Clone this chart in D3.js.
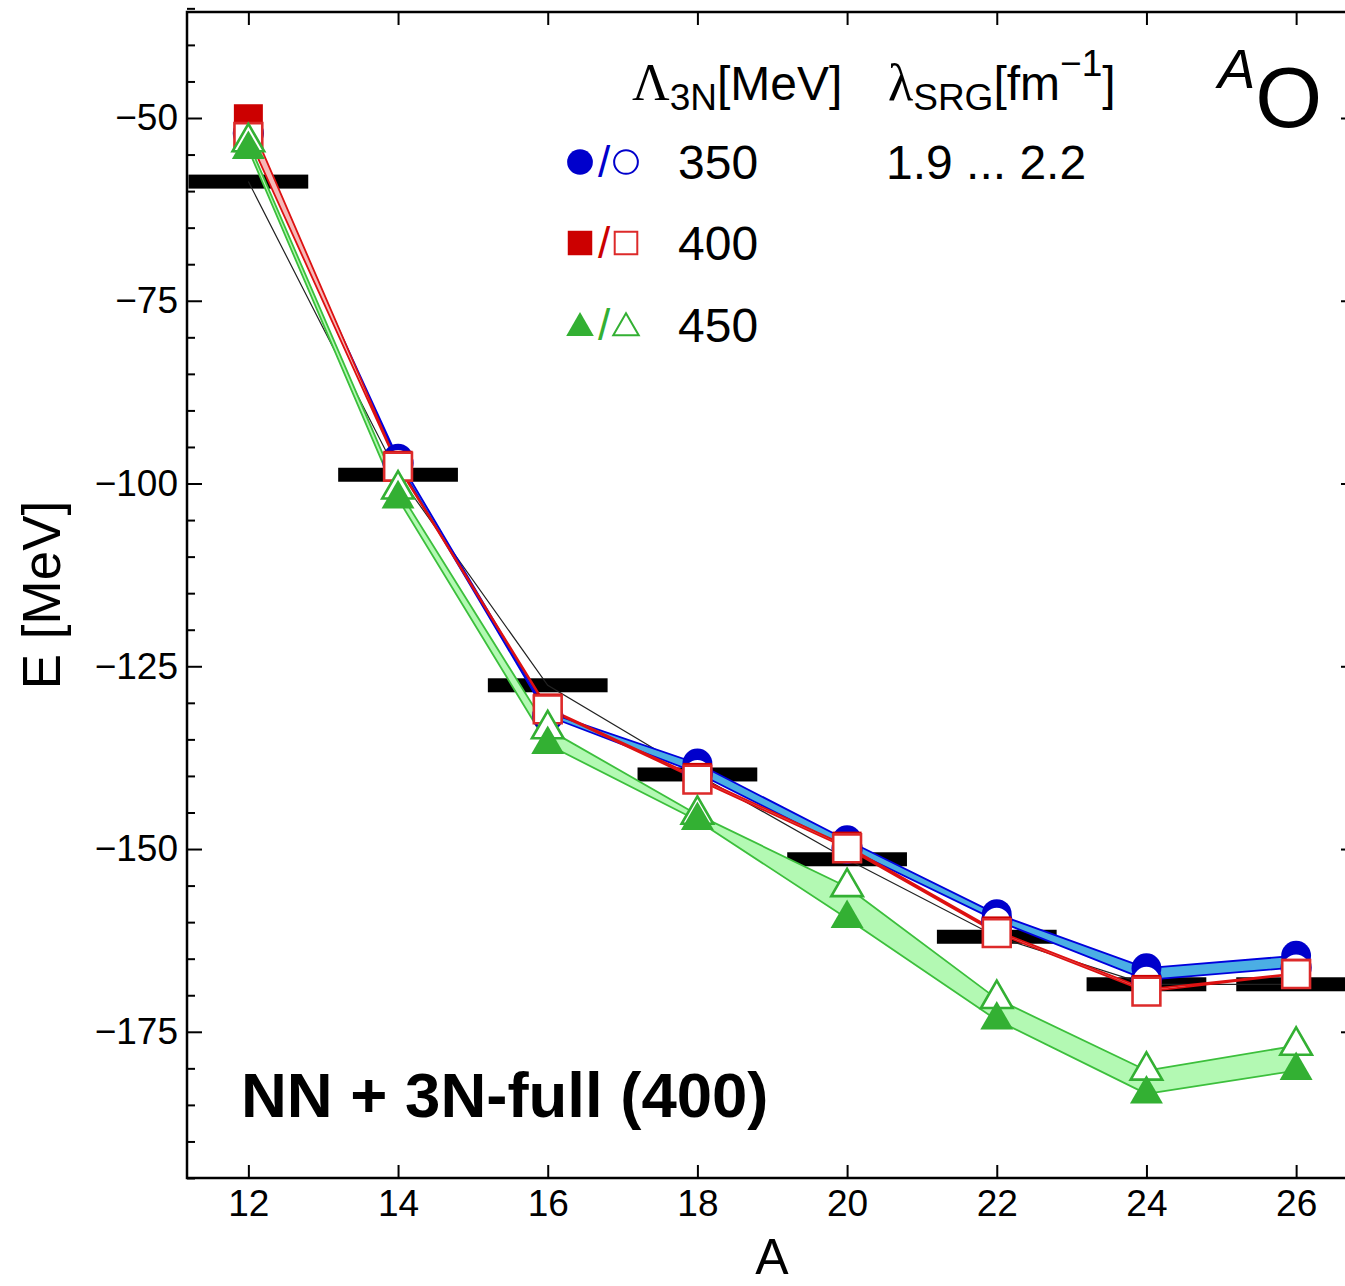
<!DOCTYPE html>
<html lang="en">
<head>
  <meta charset="UTF-8">
  <title>Oxygen isotopes: ground-state energies</title>
  <script src="https://d3js.org/d3.v7.min.js"></script>
  <style>
    body { margin: 0; background: #fff; }
    svg { display: block; background: #fff; font-family: "Liberation Sans", Arial, sans-serif; }
  </style>
</head>
<body>
  <svg id="chart" width="1345" height="1286"></svg>

  <script>
    // mass numbers and energies [MeV]
    const massNumbers = [12, 14, 16, 18, 20, 22, 24, 26];
    const expEnergy   = [-58.7, -98.8, -127.6, -139.8, -151.4, -162.0, -168.5, -168.5];

    // filled symbol / open symbol for each 3N cutoff (band spans lambda_SRG 1.9 ... 2.2)
    const e350Filled = [-51.9, -96.6, -131.3, -138.3, -148.8, -158.9, -166.3, -164.6];
    const e350Open   = [-52.1, -97.2, -131.8, -139.6, -149.9, -159.8, -167.9, -166.2];
    const e400Filled = [-50.1, -97.5, -130.7, -140.2, -149.6, -161.2, -169.2, -167.0];
    const e400Open   = [-52.6, -97.7, -130.9, -140.5, -149.9, -161.5, -169.5, -167.1];
    const e450Filled = [-54.3, -102.1, -135.7, -146.1, -159.5, -173.4, -183.5, -180.3];
    const e450Open   = [-53.3, -100.8, -133.6, -145.3, -155.2, -170.5, -180.3, -176.9];

    const cutoffLabels = ["350", "400", "450"];
    const yMajorTicks = [-50, -75, -100, -125, -150, -175];

    const svg = d3.select("#chart");

    const plotLeft = 187, plotRight = 1356, plotTop = 12, plotBottom = 1178;

    const x = d3.scaleLinear().domain([11.18, 26.8]).range([plotLeft, plotRight]);
    const y = d3.scaleLinear().domain([-35.5, -195]).range([plotTop, plotBottom]);

    const series = [
      { label: cutoffLabels[0], shape: d3.symbolCircle, size: 700, legendSize: 520,
        color: "#0000cc", openStroke: "#0000cc", bandFill: "#4baee4", bandStroke: "#0000dd",
        filled: e350Filled, open: e350Open, openOnTop: true },
      { label: cutoffLabels[1], shape: d3.symbolSquare, size: 841, legendSize: 600,
        color: "#cc0000", openStroke: "#dd2a2a", bandFill: "#f6b8b8", bandStroke: "#dd1111",
        filled: e400Filled, open: e400Open, openOnTop: true },
      { label: cutoffLabels[2], shape: d3.symbolTriangle, size: 470, legendSize: 330,
        color: "#33b033", openStroke: "#33b033", bandFill: "#b3f9b3", bandStroke: "#3cbf3c",
        filled: e450Filled, open: e450Open, openOnTop: false }
    ];

    // experimental bars
    svg.append("g")
      .selectAll("rect")
      .data(massNumbers)
      .join("rect")
      .attr("x", d => x(d - 0.8))
      .attr("width", d => x(d + 0.8) - x(d - 0.8))
      .attr("y", (d, i) => y(expEnergy[i]) - 7)
      .attr("height", 14)
      .attr("fill", "#000");

    // thin line through the experimental values
    svg.append("path")
      .datum(massNumbers)
      .attr("fill", "none")
      .attr("stroke", "#222")
      .attr("stroke-width", 1.2)
      .attr("d", d3.line().x(d => x(d)).y((d, i) => y(expEnergy[i])));

    // bands between the two SRG parameters
    const band = d3.area()
      .x(d => x(d.a))
      .y0(d => y(d.lo))
      .y1(d => y(d.hi));

    series.forEach(s => {
      const pts = massNumbers.map((a, i) => ({ a: a, lo: s.filled[i], hi: s.open[i] }));
      svg.append("path")
        .datum(pts)
        .attr("fill", s.bandFill)
        .attr("stroke", s.bandStroke)
        .attr("stroke-width", 1.8)
        .attr("stroke-linejoin", "round")
        .attr("d", band);
    });

    // markers
    function drawMarkers(s, values, isOpen) {
      svg.append("g")
        .selectAll("path")
        .data(massNumbers)
        .join("path")
        .attr("transform", (d, i) => `translate(${x(d)},${y(values[i])})`)
        .attr("d", d3.symbol().type(s.shape).size(isOpen ? s.size * 0.92 : s.size))
        .attr("fill", isOpen ? "#fff" : s.color)
        .attr("stroke", isOpen ? s.openStroke : "none")
        .attr("stroke-width", isOpen ? 2.6 : 0);
    }

    series.forEach(s => {
      if (s.openOnTop) {
        drawMarkers(s, s.filled, false);
        drawMarkers(s, s.open, true);
      } else {
        drawMarkers(s, s.open, true);
        drawMarkers(s, s.filled, false);
      }
    });

    // frame
    svg.append("rect")
      .attr("x", plotLeft).attr("y", plotTop)
      .attr("width", plotRight - plotLeft).attr("height", plotBottom - plotTop)
      .attr("fill", "none")
      .attr("stroke", "#000")
      .attr("stroke-width", 2.5);

    const yMinor = d3.range(-35, -196, -5).filter(v => !yMajorTicks.includes(v));

    function styleAxis(g, fontSize) {
      g.select(".domain").remove();
      g.selectAll(".tick line").attr("stroke", "#000").attr("stroke-width", 2);
      g.selectAll("text")
        .attr("fill", "#000")
        .style("font-family", "'Liberation Sans', Arial, sans-serif")
        .style("font-size", fontSize + "px");
    }

    svg.append("g")
      .attr("transform", `translate(${plotLeft},0)`)
      .call(d3.axisLeft(y).tickValues(yMajorTicks).tickSize(-15).tickPadding(9))
      .call(g => styleAxis(g, 37));
    svg.append("g")
      .attr("transform", `translate(${plotLeft},0)`)
      .call(d3.axisLeft(y).tickValues(yMinor).tickSize(-8).tickFormat(""))
      .call(g => styleAxis(g, 37));
    svg.append("g")
      .attr("transform", `translate(${plotRight},0)`)
      .call(d3.axisRight(y).tickValues(yMajorTicks).tickSize(-15).tickFormat(""))
      .call(g => styleAxis(g, 37));
    svg.append("g")
      .attr("transform", `translate(${plotRight},0)`)
      .call(d3.axisRight(y).tickValues(yMinor).tickSize(-8).tickFormat(""))
      .call(g => styleAxis(g, 37));

    svg.append("g")
      .attr("transform", `translate(0,${plotBottom})`)
      .call(d3.axisBottom(x).tickValues(massNumbers).tickSize(-13).tickPadding(12).tickFormat(d3.format("d")))
      .call(g => styleAxis(g, 37));
    svg.append("g")
      .attr("transform", `translate(0,${plotTop})`)
      .call(d3.axisTop(x).tickValues(massNumbers).tickSize(-13).tickFormat(""))
      .call(g => styleAxis(g, 37));

    // axis titles
    svg.append("text")
      .attr("x", 772).attr("y", 1274)
      .attr("text-anchor", "middle")
      .style("font-size", "50px")
      .text("A");

    svg.append("text")
      .attr("transform", "translate(60,595) rotate(-90)")
      .attr("text-anchor", "middle")
      .style("font-size", "53px")
      .text("E [MeV]");

    // legend header
    const h1 = svg.append("text").attr("x", 632).attr("y", 100).style("font-size", "48px");
    h1.append("tspan").style("font-family", "'Liberation Serif', 'DejaVu Serif', serif").style("font-size", "52px").text("Λ");
    h1.append("tspan").attr("dy", 10).style("font-size", "37px").text("3N");
    h1.append("tspan").attr("dy", -10).text("[MeV]");

    const h2 = svg.append("text").attr("x", 888).attr("y", 100).style("font-size", "48px");
    h2.append("tspan").style("font-family", "'Liberation Serif', 'DejaVu Serif', serif").style("font-size", "52px").text("λ");
    h2.append("tspan").attr("dy", 10).style("font-size", "37px").text("SRG");
    h2.append("tspan").attr("dy", -10).text("[fm");
    h2.append("tspan").attr("dy", -24).style("font-size", "37px").text("−1");
    h2.append("tspan").attr("dy", 24).text("]");

    // legend rows
    const rowY = [162, 243, 325];
    series.forEach((s, i) => {
      const ly = rowY[i];
      const dy = s.shape === d3.symbolTriangle ? 3 : 0;
      svg.append("path")
        .attr("transform", `translate(580,${ly + dy})`)
        .attr("d", d3.symbol().type(s.shape).size(s.legendSize))
        .attr("fill", s.color);
      svg.append("text")
        .attr("x", 604).attr("y", ly + 15)
        .attr("text-anchor", "middle")
        .attr("fill", s.color)
        .style("font-size", "44px")
        .text("/");
      svg.append("path")
        .attr("transform", `translate(626,${ly + dy})`)
        .attr("d", d3.symbol().type(s.shape).size(s.legendSize * 0.85))
        .attr("fill", "#fff")
        .attr("stroke", s.openStroke)
        .attr("stroke-width", 2);
      svg.append("text")
        .attr("x", 678).attr("y", ly + 17)
        .style("font-size", "48px")
        .text(s.label);
    });

    svg.append("text")
      .attr("x", 886).attr("y", rowY[0] + 17)
      .style("font-size", "48px")
      .text("1.9 ... 2.2");

    // nucleus label
    const nuc = svg.append("text").attr("x", 1218).attr("y", 88);
    nuc.append("tspan").style("font-size", "56px").style("font-style", "italic").text("A");
    nuc.append("tspan").attr("dy", 39).style("font-size", "86px").text("O");

    // interaction label
    svg.append("text")
      .attr("x", 241).attr("y", 1117)
      .style("font-size", "63.5px")
      .style("font-weight", "bold")
      .text("NN + 3N-full (400)");
  </script>
</body>
</html>
